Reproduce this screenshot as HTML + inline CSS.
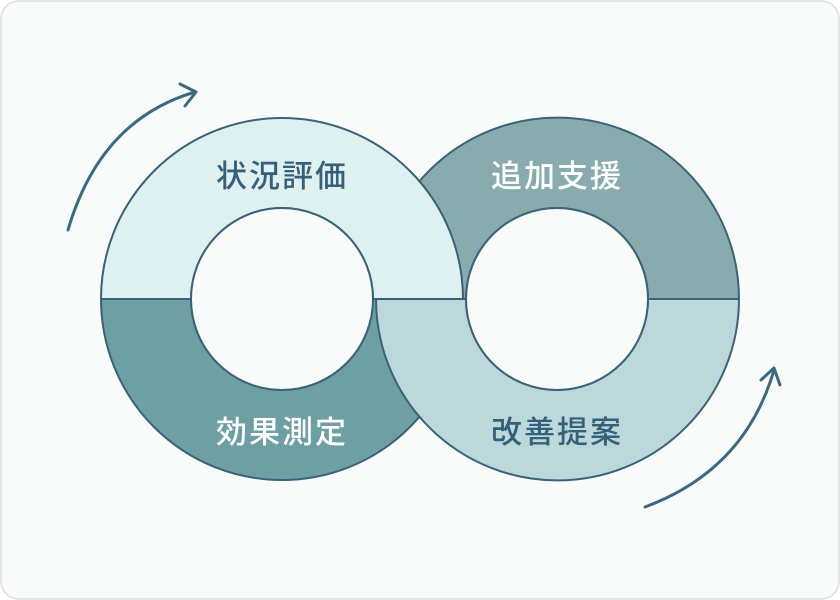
<!DOCTYPE html>
<html><head><meta charset="utf-8"><style>
body{margin:0;background:#fff;}
svg{display:block}
text{font-family:"Liberation Sans","Noto Sans CJK JP",sans-serif;font-size:31px;font-weight:500;letter-spacing:2px;text-anchor:middle}
</style></head><body>
<svg width="840" height="600" viewBox="0 0 840 600" xmlns="http://www.w3.org/2000/svg">
<rect x="1" y="1" width="838" height="598" rx="18" fill="#f9fbfb" stroke="#dcdfe0" stroke-width="1.5"/>
<g stroke="#3a6278" stroke-width="2">
<path d="M376 299 A181 181 0 0 1 739 299 L648 299 A91 91 0 0 0 466 299 Z" fill="#88acae"/>
<path d="M101 299 A181 181 0 0 0 463 299 L373 299 A91 91 0 0 1 191 299 Z" fill="#6e9fa3"/>
<path d="M101 299 A181 181 0 0 1 463 299 L373 299 A91 91 0 0 0 191 299 Z" fill="#dff0f0"/>
<path d="M376 299 A181 181 0 0 0 739 299 L648 299 A91 91 0 0 1 466 299 Z" fill="#bcd8db"/>
<circle cx="282" cy="299" r="91" fill="#f9fbfb"/>
<circle cx="557" cy="299" r="91" fill="#f9fbfb"/>
</g>
<g fill="none" stroke="#3a6a80" stroke-width="3" stroke-linecap="round" stroke-linejoin="round">
<path d="M68 230 Q100 120 195 92"/>
<path d="M180 84 L196 92 L185 106"/>
<path d="M645 507 Q745 470 774 370"/>
<path d="M761 380 L774 368 L780 385"/>
</g>
<text x="282" y="187" fill="#35607a">状況評価</text>
<text x="557" y="187" fill="#ffffff">追加支援</text>
<text x="282" y="443" fill="#ffffff">効果測定</text>
<text x="557" y="443" fill="#35607a">改善提案</text>
</svg>
</body></html>
